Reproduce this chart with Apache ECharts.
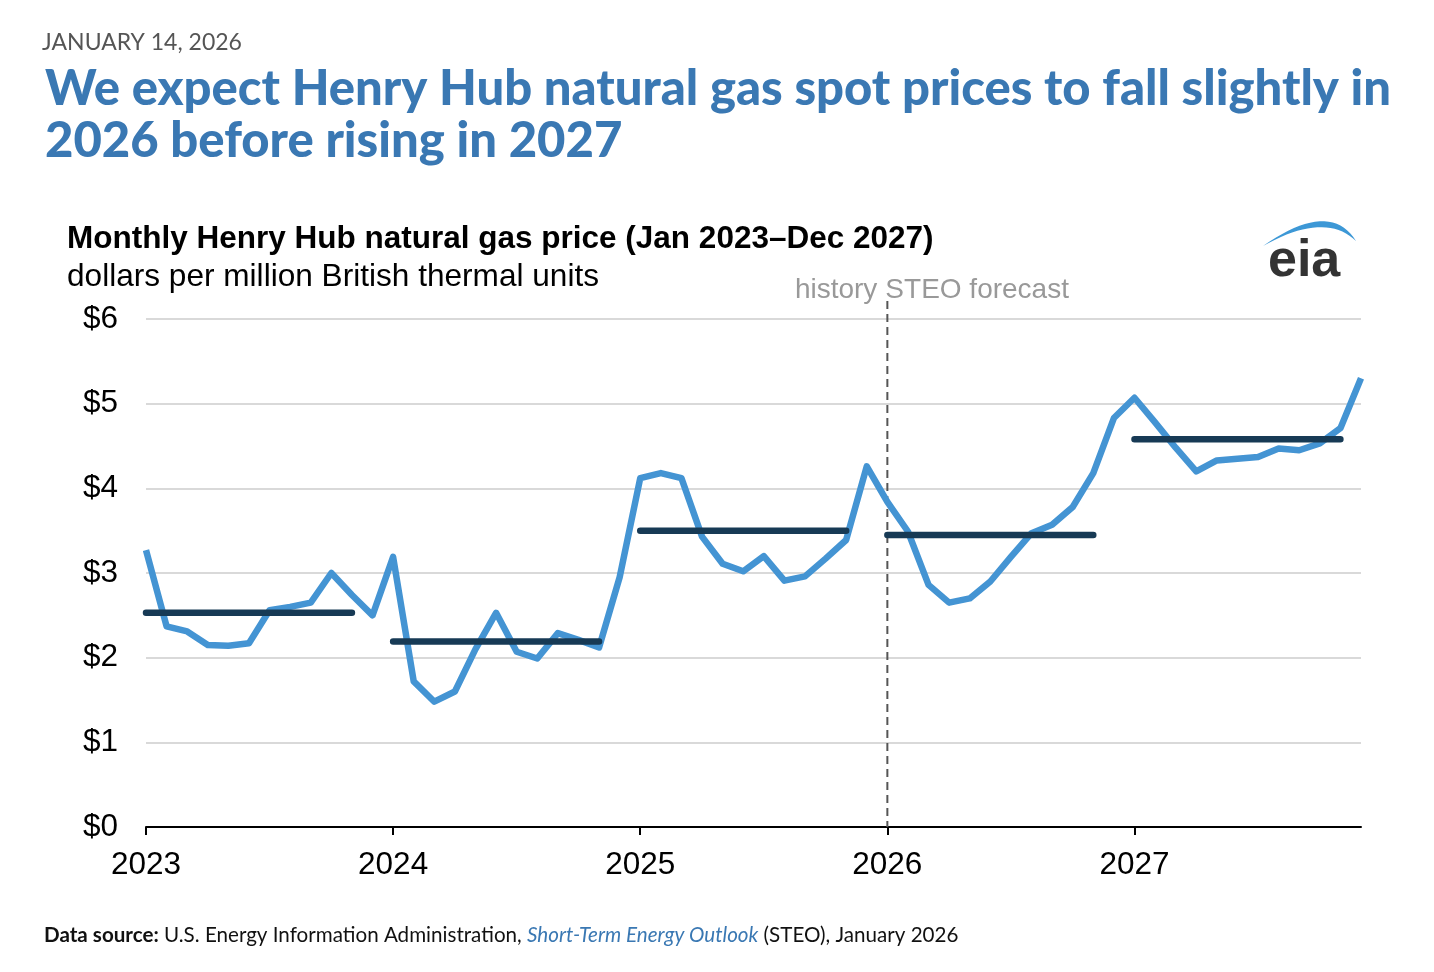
<!DOCTYPE html>
<html>
<head>
<meta charset="utf-8">
<script src="https://cdn.jsdelivr.net/npm/echarts@6/dist/echarts.min.js"></script>
<style>
  html, body { margin: 0; padding: 0; background: #fff; }
  #chart { width: 1434px; height: 972px; }
</style>
</head>
<body>
<div id="chart"></div>
<script>
// 年份与月份
const years = ['2023', '2024', '2025', '2026', '2027'];
const months = ['Jan', 'Feb', 'Mar', 'Apr', 'May', 'Jun', 'Jul', 'Aug', 'Sep', 'Oct', 'Nov', 'Dec'];

// 月度价格 (美元/百万英热单位)
const price2023 = [3.27, 2.37, 2.31, 2.15, 2.14, 2.17, 2.56, 2.60, 2.65, 3.00, 2.74, 2.50];
const price2024 = [3.19, 1.72, 1.48, 1.60, 2.10, 2.53, 2.07, 1.99, 2.29, 2.21, 2.12, 2.95];
const price2025 = [4.12, 4.18, 4.12, 3.43, 3.11, 3.02, 3.20, 2.91, 2.96, 3.17, 3.39, 4.26];
const price2026 = [3.84, 3.49, 2.86, 2.65, 2.70, 2.90, 3.19, 3.47, 3.57, 3.78, 4.18, 4.83];
const price2027 = [5.07, 4.78, 4.48, 4.20, 4.33, 4.35, 4.37, 4.47, 4.45, 4.53, 4.71, 5.30];

// 年度均价
const annualAvg = [2.53, 2.19, 3.50, 3.45, 4.58];

// y轴刻度
const yTicks = [0, 1, 2, 3, 4, 5, 6];

// 预测起点 (Jan 2026)
const forecastStart = 'Jan 2026';

const categories = [];
years.forEach(y => months.forEach(m => categories.push(m + ' ' + y)));
const monthlyPrice = [].concat(price2023, price2024, price2025, price2026, price2027);

// 年度均价线: 每年 Jan–Nov 画一段水平线, 中间用 null 断开
const avgData = categories.map((c, i) => {
    const k = Math.floor(i / 12);
    return (i % 12) <= 10 ? annualAvg[k] : null;
});

// eia 标志上方的蓝色弧形 (两条二次贝塞尔曲线围成的月牙形)
function crescentPoints() {
    const pts = [];
    const quad = (p0, p1, p2, t) => [
        (1 - t) * (1 - t) * p0[0] + 2 * (1 - t) * t * p1[0] + t * t * p2[0],
        (1 - t) * (1 - t) * p0[1] + 2 * (1 - t) * t * p1[1] + t * t * p2[1]
    ];
    for (let t = 0; t <= 1.0001; t += 0.05) pts.push(quad([1263, 246], [1330, 199], [1356, 241], t));
    for (let t = 0; t <= 1.0001; t += 0.05) pts.push(quad([1356, 241], [1325, 211], [1263, 246], t));
    return pts;
}

const chart = echarts.init(document.getElementById('chart'));

const option = {
    backgroundColor: '#fff',
    animation: false,
    title: [
        {
            text: 'JANUARY 14, 2026',
            left: 37, top: 26,
            textStyle: { fontFamily: 'Lato', fontSize: 23, fontWeight: 'normal', color: '#555' }
        },
        {
            text: 'We expect Henry Hub natural gas spot prices to fall slightly in\n2026 before rising in 2027',
            left: 40, top: 58,
            textStyle: { fontFamily: 'Lato', fontSize: 49, fontWeight: 900, color: '#3a78b3', lineHeight: 52 }
        },
        {
            text: 'Monthly Henry Hub natural gas price (Jan 2023\u2013Dec 2027)',
            subtext: 'dollars per million British thermal units',
            left: 62, top: 218,
            itemGap: 6,
            textStyle: { fontFamily: 'Liberation Sans', fontSize: 31.5, fontWeight: 'bold', color: '#000' },
            subtextStyle: { fontFamily: 'Liberation Sans', fontSize: 31.6, color: '#000' }
        },
        {
            text: '{b|Data source:} U.S. Energy Information Administration, {i|Short-Term Energy Outlook} (STEO), January 2026',
            left: 39, top: 920,
            textStyle: {
                fontFamily: 'Lato', fontSize: 20.6, fontWeight: 'normal', color: '#111',
                rich: {
                    b: { fontFamily: 'Lato', fontSize: 20.6, fontWeight: 'bold', color: '#111' },
                    i: { fontFamily: 'Lato', fontSize: 20.6, fontStyle: 'italic', color: '#3a78b3' }
                }
            }
        }
    ],
    grid: { left: 146, right: 73, top: 319, bottom: 145, containLabel: false },
    xAxis: {
        type: 'category',
        data: categories,
        boundaryGap: false,
        axisLine: { lineStyle: { color: '#000', width: 2 } },
        axisTick: { show: true, length: 8, interval: i => i % 12 === 0, lineStyle: { color: '#000', width: 2 } },
        axisLabel: {
            interval: i => i % 12 === 0,
            formatter: v => v.split(' ')[1],
            fontFamily: 'Liberation Sans', fontSize: 31.5, color: '#000', margin: 22
        },
        splitLine: { show: false }
    },
    yAxis: {
        type: 'value',
        min: yTicks[0], max: yTicks[yTicks.length - 1], interval: 1,
        axisLine: { show: false },
        axisTick: { show: false },
        axisLabel: {
            formatter: v => '$' + v,
            fontFamily: 'Liberation Sans', fontSize: 31.5, color: '#000', margin: 28
        },
        splitLine: { lineStyle: { color: '#d9d9d9', width: 2 } }
    },
    series: [
        {
            name: 'monthly',
            type: 'line',
            data: monthlyPrice,
            symbol: 'none',
            lineStyle: { color: '#4494d3', width: 6.5, join: 'round' },
            z: 2
        },
        {
            name: 'annual average',
            type: 'line',
            data: avgData,
            connectNulls: false,
            symbol: 'none',
            lineStyle: { color: '#173a55', width: 6.5, cap: 'round' },
            z: 3
        }
    ],
    graphic: [
        // eia logo
        {
            type: 'polygon',
            shape: { points: crescentPoints() },
            style: { fill: '#3d98d6' }
        },
        {
            type: 'text',
            left: 1268, top: 236,
            style: { text: 'eia', fontFamily: 'Liberation Sans', fontSize: 52, fontWeight: 'bold', fill: '#333' }
        }
    ]
};

chart.setOption(option);

// 预测分界线及标注, 位置由坐标轴换算
const xf = chart.convertToPixel({ xAxisIndex: 0 }, forecastStart);
const yTop = chart.convertToPixel({ yAxisIndex: 0 }, yTicks[yTicks.length - 1]);
const yBottom = chart.convertToPixel({ yAxisIndex: 0 }, yTicks[0]);
chart.setOption({
    graphic: [
        {
            id: 'forecastLine',
            type: 'line',
            shape: { x1: xf, y1: yTop - 18, x2: xf, y2: yBottom },
            style: { stroke: '#555', lineWidth: 2, lineDash: [8, 5] },
            z: 1
        },
        {
            id: 'historyText',
            type: 'text',
            x: xf - 10, y: yTop - 29,
            style: { text: 'history', fontFamily: 'Liberation Sans', fontSize: 28, fill: '#999', align: 'right', verticalAlign: 'middle' }
        },
        {
            id: 'forecastText',
            type: 'text',
            x: xf - 2, y: yTop - 29,
            style: { text: 'STEO forecast', fontFamily: 'Liberation Sans', fontSize: 28, fill: '#999', align: 'left', verticalAlign: 'middle' }
        }
    ]
});
</script>
</body>
</html>
